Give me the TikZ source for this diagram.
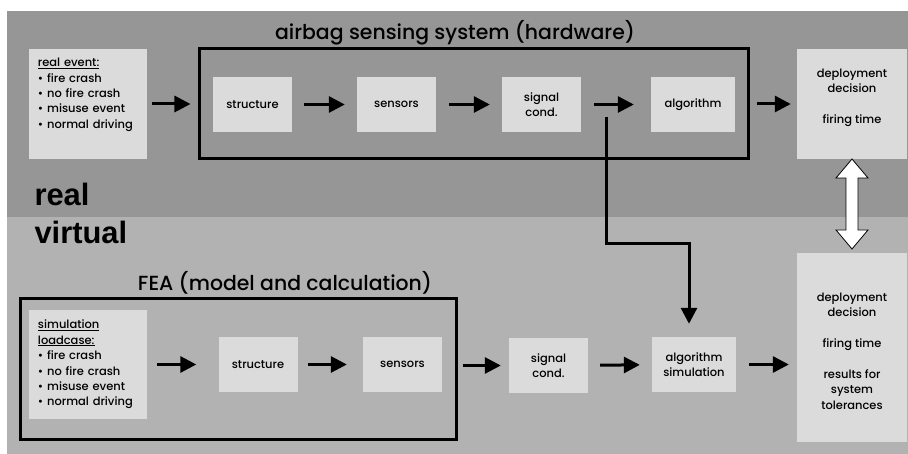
\documentclass[tikz,border=0pt]{standalone}
\usepackage{fontspec}
\setmainfont{Poppins Medium}
\newfontfamily\bigfont{Liberation Sans}
\usetikzlibrary{arrows.meta,positioning}
\definecolor{realgray}{gray}{0.59}
\definecolor{virtgray}{gray}{0.70}
\definecolor{boxgray}{gray}{0.86}

\begin{document}
\begin{tikzpicture}[x=1bp,y=-1bp,>={Triangle[length=16bp,width=16bp]},
  box/.style={fill=boxgray,inner sep=0pt,align=center,minimum width=79bp,minimum height=55bp,
    font=\fontsize{11.5}{15.5}\selectfont},
  listbox/.style={box,align=left,text width=100bp,minimum width=118bp},
  frame/.style={draw,line width=3bp,inner sep=0pt},
  flow/.style={->,line width=3bp},
  title/.style={font=\fontsize{20.5}{22}\selectfont}]
\useasboundingbox (0,0) rectangle (908,454);

%background
\fill[realgray] (7,11) rectangle (908,217);
\fill[virtgray] (7,217) rectangle (908,454);
\node[anchor=base west,font=\bigfont\bfseries\fontsize{31}{31}\selectfont] (real) at (31,206) {real};
\node[anchor=base west,font=\bigfont\bfseries\fontsize{31}{31}\selectfont] (virtual) at (31,244) {virtual};

%real: hardware chain
\node[frame,minimum width=548bp,minimum height=110bp] (hw) at (474,104) {};
\node[title] (hwtitle) at (455,33) {airbag sensing system (hardware)};
\node[listbox,minimum height=110bp] (event) at (88,104)
  {\underline{real event:}\\\textbullet{} fire crash\\\textbullet{} no fire crash\\\textbullet{} misuse event\\\textbullet{} normal driving\\[6pt]~};
\node[box] (struct1) at (252.5,104.5) {structure};
\node[box] (sens1) at (396.5,104.5) {sensors};
\node[box] (sig1) at (541.5,104.5) {signal\\cond.};
\node[box,minimum width=84bp] (alg1) at (693,104.5) {algorithm};
\node[box,minimum width=110bp,minimum height=110bp] (dep1) at (852,104)
  {deployment\\decision\\[15.5pt]firing time\\~};

%virtual: FEA chain
\node[frame,minimum width=435bp,minimum height=140bp] (fea) at (238.5,369) {};
\node[title] (featitle) at (285,283) {FEA (model and calculation)};
\node[listbox,minimum height=109bp] (sim) at (88,364.5)
  {\underline{simulation}\\\underline{loadcase:}\\\textbullet{} fire crash\\\textbullet{} no fire crash\\\textbullet{} misuse event\\\textbullet{} normal driving};
\node[box] (struct2) at (258,364.5) {structure};
\node[box] (sens2) at (402.5,364.5) {sensors};
\node[box] (sig2) at (548.5,365.5) {signal\\cond.};
\node[box,minimum width=84bp] (alg2) at (694,364.5) {algorithm\\simulation};
\node[box,minimum width=110bp,minimum height=189bp] (dep2) at (852,347.5)
  {~\\deployment\\decision\\[15.5pt]firing time\\[15.5pt]results for\\system\\tolerances};

%arrows, real
\draw[flow,shorten <=5bp,shorten >=8bp]   (event.east) -- (hw.west);      %event--hw
\draw[flow,shorten <=12bp,shorten >=12bp] (struct1) -- (sens1);           %structure--sensors
\draw[flow,shorten <=13bp,shorten >=12bp] (sens1) -- (sig1);              %sensors--signal
\draw[flow,shorten <=13bp,shorten >=17bp] (sig1) -- (alg1);               %signal--algorithm
\draw[flow,shorten <=7bp,shorten >=6bp]   (hw.east) -- (dep1.west);       %hw--deployment

%arrows, virtual
\draw[flow,shorten <=10bp,shorten >=22bp] (sim.east) -- (struct2.west);   %sim--structure
\draw[flow,shorten <=10bp,shorten >=16bp] (struct2) -- (sens2);           %structure--sensors
\draw[flow,shorten <=5bp,shorten >=8bp]   (fea.east |- sig2.west) -- (sig2.west); %fea--signal
\draw[flow,shorten <=12bp,shorten >=12bp] (sig2) -- (alg2);               %signal--algorithm
\draw[flow,shorten <=13bp,shorten >=8bp]  (alg2.east) -- (alg2.east -| dep2.west); %algorithm--deployment

%real signal into the simulation
\coordinate (tap) at (606,117);
\draw[flow,shorten >=13bp] (tap) -- (606,244) -| ([xshift=-5bp]alg2.north); %signal--algorithm sim.

%comparison real/virtual
\draw[fill=white,line width=0.8bp] (852,159)--(868,178)--(858,178)--(858,230)--(868,230)
  --(852,249)--(836,230)--(846,230)--(846,178)--(836,178)--cycle;        %dep1--dep2

\end{tikzpicture}
\end{document}
